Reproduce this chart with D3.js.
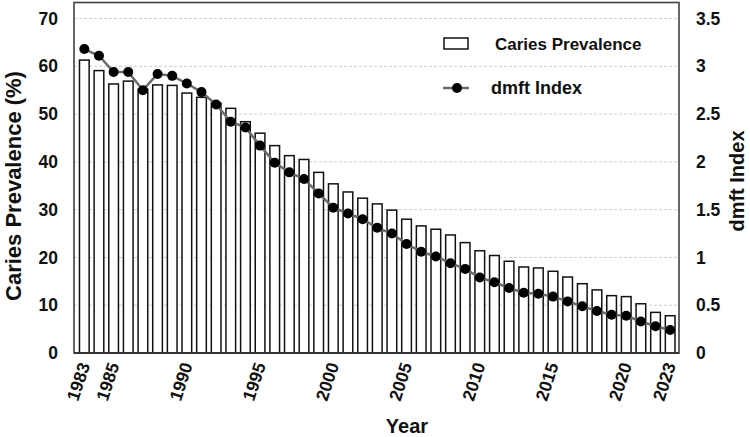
<!DOCTYPE html>
<html><head><meta charset="utf-8">
<script src="https://cdn.jsdelivr.net/npm/d3@7"></script>
<style>
body{margin:0;background:#fff;}
text{font-family:Arial,"Liberation Sans",sans-serif;font-weight:bold;fill:#111;}
</style></head>
<body><svg id="c" width="750" height="437"></svg>
<script>
const years = d3.range(1983, 2024);
const prevalence = [61.3,59.1,56.3,56.9,55.2,56.1,56.0,54.4,53.5,52.3,51.2,48.4,46.0,43.4,41.3,40.5,37.8,35.4,33.7,32.4,31.2,29.9,28.0,26.6,25.9,24.7,23.1,21.4,20.4,19.2,18.0,17.8,17.1,15.9,14.5,13.2,12.0,11.8,10.3,8.5,7.8];
const dmft = [3.18,3.11,2.94,2.94,2.75,2.92,2.90,2.82,2.73,2.60,2.42,2.36,2.17,1.99,1.89,1.82,1.67,1.52,1.46,1.40,1.31,1.25,1.14,1.06,1.01,0.94,0.88,0.79,0.74,0.68,0.63,0.62,0.59,0.54,0.49,0.44,0.40,0.39,0.33,0.28,0.24];
const xTickYears = [1983,1985,1990,1995,2000,2005,2010,2015,2020,2023];
const leftTicks = [0,10,20,30,40,50,60,70];
const rightTicks = [0,0.5,1,1.5,2,2.5,3,3.5];

const svg = d3.select("#c");
const L = 74, R = 679, T = 2.5, B = 353;
const FONT = "Arial, Liberation Sans, sans-serif";

const x = d3.scaleBand().domain(years).range([77, 677.5]).paddingInner(0.34).paddingOuter(0.17);
const yL = d3.scaleLinear().domain([0,70]).range([B, 18.5]);
const yR = d3.scaleLinear().domain([0,3.5]).range([B, 18.5]);

// gridlines
svg.append("g").selectAll("line").data(leftTicks.filter(d=>d>0)).join("line")
  .attr("x1", L).attr("x2", R).attr("y1", d=>yL(d)).attr("y2", d=>yL(d))
  .attr("stroke", "#cfcfcf").attr("stroke-width", 1).attr("stroke-dasharray", "3,2");

// bars
svg.append("g").selectAll("rect").data(years).join("rect")
  .attr("x", d=>x(d)).attr("width", x.bandwidth())
  .attr("y", (d,i)=>yL(prevalence[i])).attr("height", (d,i)=>B - yL(prevalence[i]))
  .attr("fill", "#fff").attr("stroke", "#111").attr("stroke-width", 1.5);

// line
const cx = d => x(d) + x.bandwidth()/2;
svg.append("path").datum(years)
  .attr("d", d3.line().x(d=>cx(d)).y((d,i)=>yR(dmft[i])))
  .attr("fill","none").attr("stroke","#6b6b6b").attr("stroke-width",2.5);
svg.append("g").selectAll("circle").data(years).join("circle")
  .attr("cx", d=>cx(d)).attr("cy", (d,i)=>yR(dmft[i])).attr("r", 5)
  .attr("fill", "#000");

// frame
svg.append("rect").attr("x", L).attr("y", T).attr("width", R-L).attr("height", B-T)
  .attr("fill","none").attr("stroke","#404040").attr("stroke-width",1.6);
svg.append("line").attr("x1",L).attr("x2",R).attr("y1",B).attr("y2",B).attr("stroke","#333").attr("stroke-width",2.2);

// left axis
const gl = svg.append("g").attr("transform", `translate(${L},0)`)
  .call(d3.axisLeft(yL).tickValues(leftTicks).tickSize(0).tickPadding(16));
gl.select(".domain").remove();
gl.selectAll("text").attr("font-size", 17.5).attr("font-family",FONT).attr("font-weight","bold").attr("fill","#111");

// right axis
const gr = svg.append("g").attr("transform", `translate(${R},0)`)
  .call(d3.axisRight(yR).tickValues(rightTicks).tickSize(0).tickPadding(17).tickFormat(d3.format("")));
gr.select(".domain").remove();
gr.selectAll("text").attr("font-size", 17.5).attr("font-family",FONT).attr("font-weight","bold").attr("fill","#111");

// bottom axis
const gb = svg.append("g").attr("transform", `translate(0,${B})`)
  .call(d3.axisBottom(x).tickValues(xTickYears).tickSize(0).tickPadding(0));
gb.select(".domain").remove();
gb.selectAll("text").attr("font-size", 17.5).attr("font-family",FONT).attr("font-weight","bold").attr("fill","#111")
  .attr("text-anchor","end").attr("y",0).attr("dy","0.35em")
  .attr("transform","translate(0,10) rotate(-72)");

// axis titles
svg.append("text").attr("transform","translate(21,186) rotate(-90)").attr("text-anchor","middle")
  .attr("font-size",22).text("Caries Prevalence (%)");
svg.append("text").attr("transform","translate(744,181) rotate(-90)").attr("text-anchor","middle")
  .attr("font-size",20).text("dmft Index");
svg.append("text").attr("x",407).attr("y",433).attr("text-anchor","middle")
  .attr("font-size",20).text("Year");

// legend
svg.append("rect").attr("x",444).attr("y",38).attr("width",24).attr("height",11)
  .attr("fill","#fff").attr("stroke","#111").attr("stroke-width",1.5);
svg.append("text").attr("x",495).attr("y",50).attr("font-size",17).text("Caries Prevalence");
svg.append("line").attr("x1",443).attr("x2",469).attr("y1",88).attr("y2",88).attr("stroke","#6b6b6b").attr("stroke-width",2.5);
svg.append("circle").attr("cx",457).attr("cy",88).attr("r",5).attr("fill","#000");
svg.append("text").attr("x",491).attr("y",94).attr("font-size",18).text("dmft Index");
</script></body></html>
